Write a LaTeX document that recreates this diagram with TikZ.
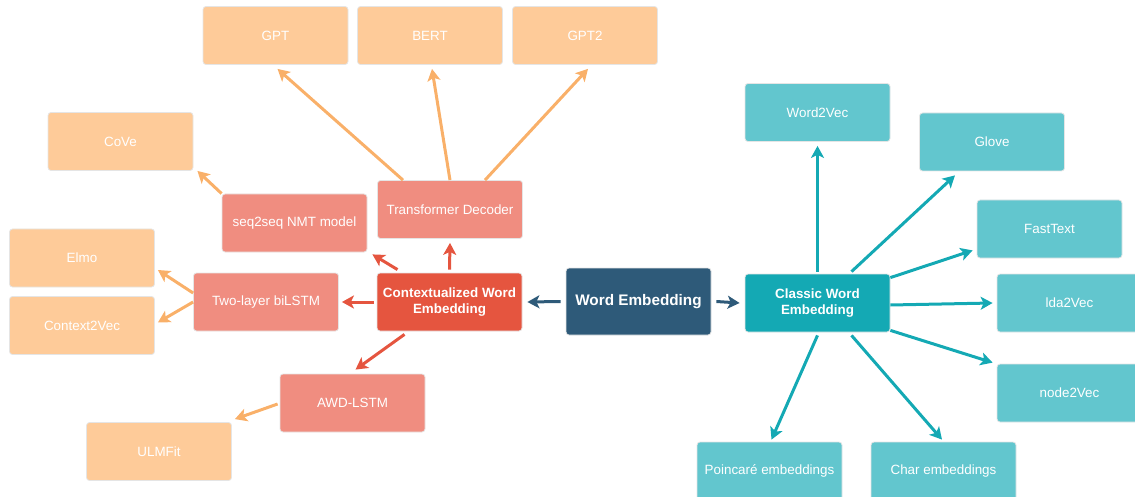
\documentclass[tikz,border=0pt]{standalone}
\usepackage{fontspec}
\setmainfont{Liberation Sans}
\usetikzlibrary{arrows.meta}
\definecolor{peach}{HTML}{FECB99}
\definecolor{peacharrow}{HTML}{F9B069}
\definecolor{salmon}{HTML}{F08D80}
\definecolor{tomato}{HTML}{E5553F}
\definecolor{navy}{HTML}{2E5A79}
\definecolor{teal}{HTML}{14A9B4}
\definecolor{lteal}{HTML}{62C6CE}
\tikzset{
  box/.style={rectangle, rounded corners=3pt, draw=black!10, line width=0.8pt,
    minimum width=145pt, minimum height=58pt, text=white, align=center,
    inner sep=2pt, font=\fontsize{13.4}{15.5}\selectfont},
  leaf/.style={box, fill=peach},
  mid/.style={box, fill=salmon},
  tealleaf/.style={box, fill=lteal},
  link/.style={line width=3pt, -{Stealth[length=12pt,width=13pt,inset=3pt]}},
  warm/.style={link, peacharrow},
  red/.style={link, tomato},
  cool/.style={link, teal},
  dark/.style={link, navy}
}
\begin{document}
\begin{tikzpicture}[x=1pt,y=-1pt]
\clip (0,0) rectangle (1135,497);

% central node
\node[box, fill=navy, minimum height=67pt, font=\fontsize{15.3}{17}\selectfont\bfseries] (we) at (638.5,301.5) {Word Embedding};

% contextualized branch
\node[box, fill=tomato, font=\fontsize{13.4}{15.5}\selectfont\bfseries] (ctx) at (449.5,302) {Contextualized Word\\Embedding};
\node[mid] (bilstm) at (266,302) {Two-layer biLSTM};
\node[mid] (seq) at (294.5,223) {seq2seq NMT model};
\node[mid] (tdec) at (450,209.5) {Transformer Decoder};
\node[mid] (awd) at (352.5,403) {AWD-LSTM};
\node[leaf] (gpt) at (275.5,35.5) {GPT};
\node[leaf] (bert) at (430,35.5) {BERT};
\node[leaf] (gpt2) at (585,35.5) {GPT2};
\node[leaf] (cove) at (120.5,141.5) {CoVe};
\node[leaf] (elmo) at (82,258) {Elmo};
\node[leaf] (c2v) at (82,325.5) {Context2Vec};
\node[leaf] (ulm) at (159,451.5) {ULMFit};

% classic branch
\node[box, fill=teal, font=\fontsize{13.4}{15.5}\selectfont\bfseries] (cwe) at (817.5,303) {Classic Word\\Embedding};
\node[tealleaf] (w2v) at (817.5,112.5) {Word2Vec};
\node[tealleaf] (glove) at (992,142) {Glove};
\node[tealleaf] (fast) at (1049.5,229) {FastText};
\node[tealleaf] (lda) at (1069.5,303) {lda2Vec};
\node[tealleaf] (n2v) at (1069.5,393) {node2Vec};
\node[tealleaf] (poin) at (769.5,471) {Poincaré embeddings};
\node[tealleaf] (char) at (943.5,471) {Char embeddings};

% connectors from the root
\draw[dark] ([shift={(5,0)}]we.east) -- ([shift={(-5,0)}]cwe.west);
\draw[dark] ([shift={(-5,0)}]we.west) -- ([shift={(5,0)}]ctx.east);

% contextualized connectors
\draw[red] ([shift={(-3,0)}]ctx.west) -- ([shift={(3,0)}]bilstm.east);
\draw[red] ([shift={(-52,-3)}]ctx.north) -- ([shift={(5,2)}]seq.south east);
\draw[red] ([shift={(0,-3)}]ctx.north) -- ([shift={(0,4)}]tdec.south);
\draw[red] ([shift={(-45,3)}]ctx.south) -- ([shift={(3,-4)}]awd.north);
\draw[warm] ([shift={(0,-9)}]bilstm.west) -- ([shift={(3,12)}]elmo.east);
\draw[warm] ([shift={(0,0)}]bilstm.west) -- ([shift={(3,-3)}]c2v.east);
\draw[warm] ([shift={(-2,1)}]awd.west) -- ([shift={(3,-3)}]ulm.north east);
\draw[warm] ([shift={(0,0)}]seq.north west) -- ([shift={(4,0)}]cove.south east);
\draw[warm] ([shift={(-47,0)}]tdec.north) -- ([shift={(2,4)}]gpt.south);
\draw[warm] ([shift={(0,0)}]tdec.north) -- ([shift={(2,4)}]bert.south);
\draw[warm] ([shift={(35,0)}]tdec.north) -- ([shift={(3,4)}]gpt2.south);

% classic connectors
\draw[cool] ([shift={(0,-2)}]cwe.north) -- ([shift={(0,4)}]w2v.south);
\draw[cool] ([shift={(34,-2)}]cwe.north) -- ([shift={(-37,4)}]glove.south);
\draw[cool] ([shift={(0,4)}]cwe.north east) -- ([shift={(-4,-8)}]fast.south west);
\draw[cool] ([shift={(0,2)}]cwe.east) -- ([shift={(-4,0)}]lda.west);
\draw[cool] ([shift={(0,-2)}]cwe.south east) -- ([shift={(-4,-1)}]n2v.north west);
\draw[cool] ([shift={(0,3)}]cwe.south) -- ([shift={(2,-2)}]poin.north);
\draw[cool] ([shift={(34,3)}]cwe.south) -- ([shift={(-1.5,-2)}]char.north);
\end{tikzpicture}
\end{document}
